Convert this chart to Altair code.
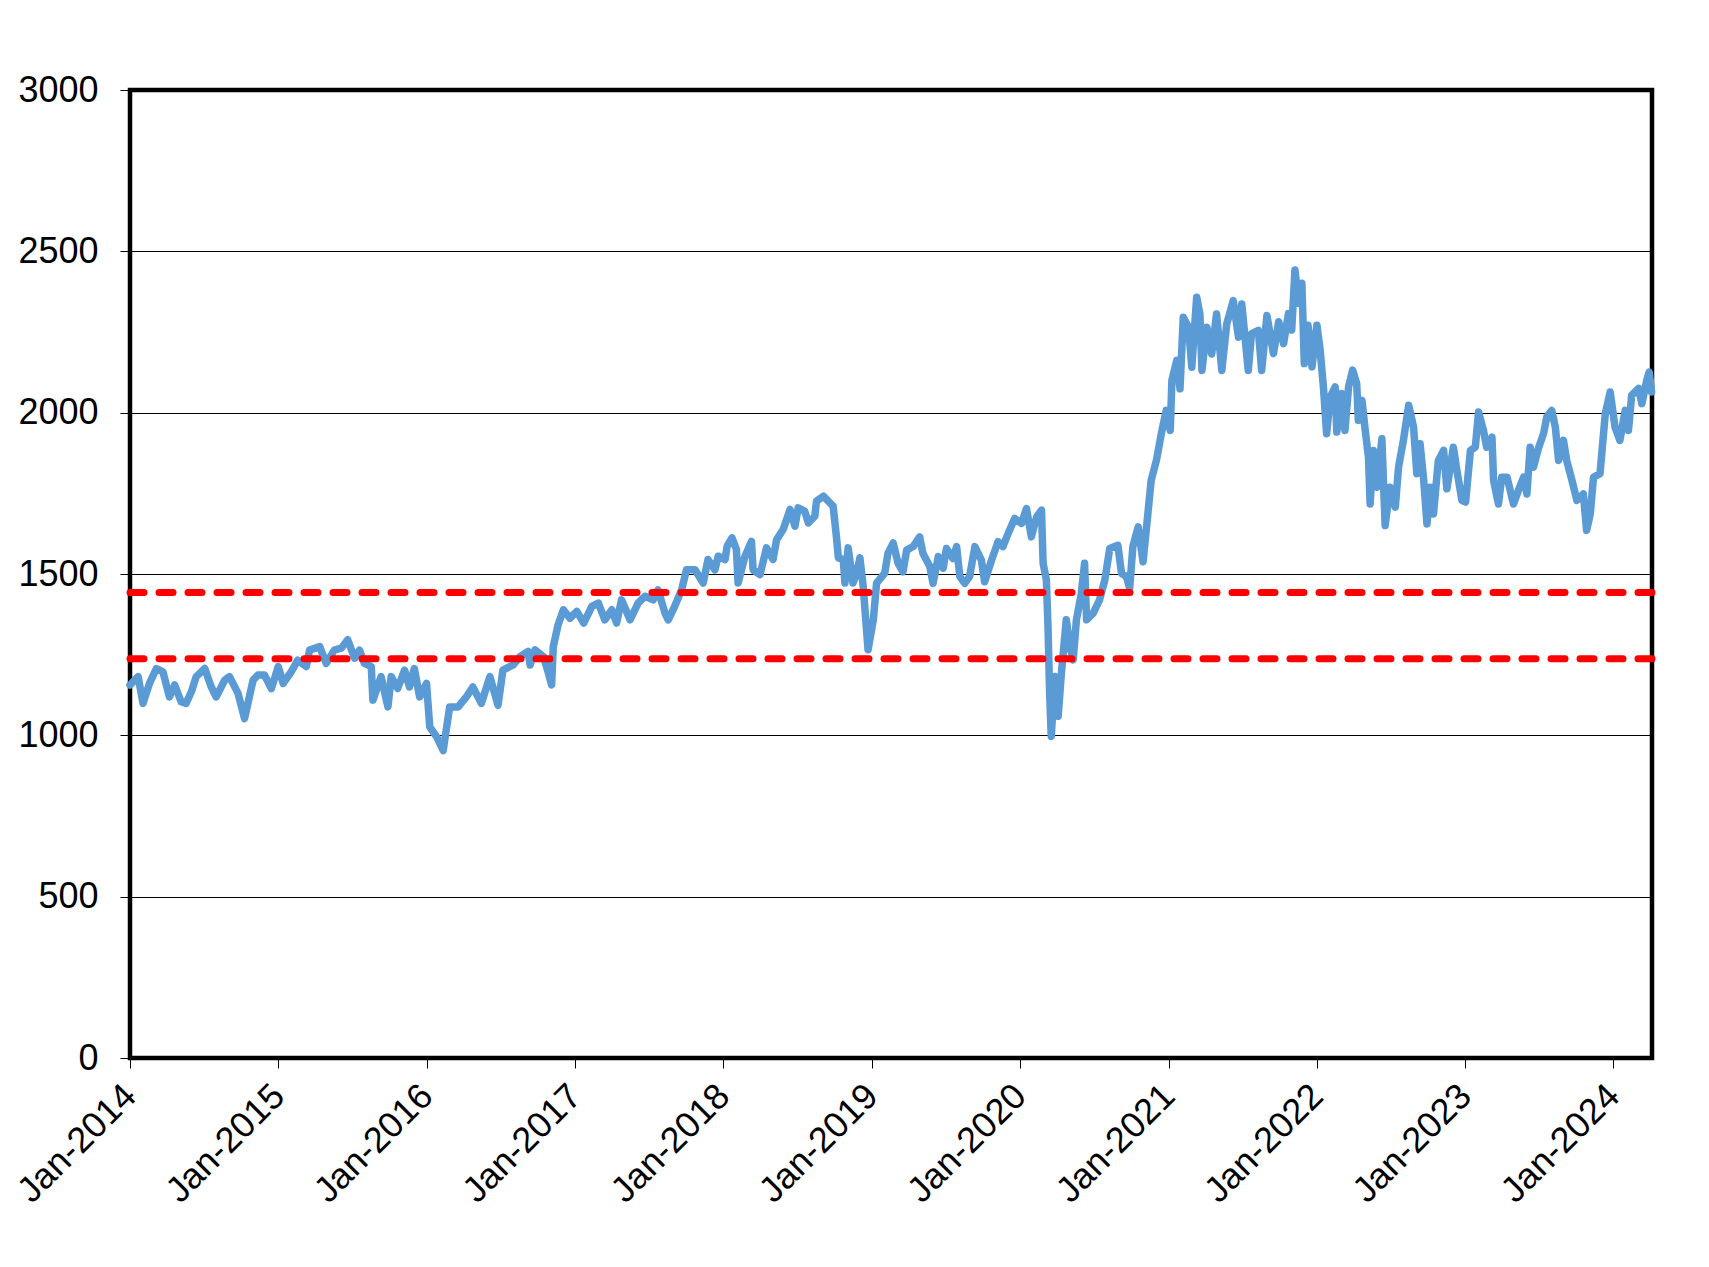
import altair as alt
import pandas as pd

# ---- data ----
dates = [
    "2014-01-01", "2014-01-21", "2014-02-02", "2014-02-18", "2014-03-07", "2014-03-23", "2014-04-08",
    "2014-04-21", "2014-05-07", "2014-05-19", "2014-06-01", "2014-06-13", "2014-07-04", "2014-07-20",
    "2014-08-01", "2014-08-22", "2014-09-03", "2014-09-24", "2014-10-10", "2014-10-31", "2014-11-12",
    "2014-11-28", "2014-12-15",
    "2015-01-01", "2015-01-13", "2015-02-02", "2015-02-18", "2015-03-11", "2015-03-19", "2015-04-13",
    "2015-04-29", "2015-05-19", "2015-06-05", "2015-06-21", "2015-07-08", "2015-07-20", "2015-08-01",
    "2015-08-18", "2015-08-22", "2015-09-11", "2015-09-28", "2015-10-06", "2015-10-22", "2015-11-08",
    "2015-11-20", "2015-12-02", "2015-12-15",
    "2016-01-01", "2016-01-09", "2016-01-26", "2016-02-11", "2016-02-27", "2016-03-19", "2016-04-08",
    "2016-04-24", "2016-05-15", "2016-06-05", "2016-06-25", "2016-07-07", "2016-08-01", "2016-08-18",
    "2016-09-07", "2016-09-12", "2016-09-24", "2016-10-15", "2016-10-27", "2016-11-04", "2016-11-08",
    "2016-11-20", "2016-12-03", "2016-12-19",
    "2017-01-05", "2017-01-22", "2017-02-11", "2017-02-27", "2017-03-15", "2017-04-01", "2017-04-13",
    "2017-04-25", "2017-05-16", "2017-06-05", "2017-06-22", "2017-07-12", "2017-07-24", "2017-08-10",
    "2017-08-18", "2017-09-03", "2017-09-20", "2017-10-02", "2017-10-23", "2017-11-12", "2017-11-24",
    "2017-12-11", "2017-12-19",
    "2018-01-05", "2018-01-10", "2018-01-22", "2018-02-02", "2018-02-06", "2018-02-23", "2018-03-11",
    "2018-03-15", "2018-04-01", "2018-04-17", "2018-05-03", "2018-05-12", "2018-05-28", "2018-06-14",
    "2018-06-26", "2018-07-04", "2018-07-20", "2018-07-29", "2018-08-14", "2018-08-18", "2018-09-04",
    "2018-09-28", "2018-10-06", "2018-10-11", "2018-10-23", "2018-10-27", "2018-11-04", "2018-11-16",
    "2018-11-25", "2018-12-03", "2018-12-11", "2018-12-23",
    "2019-01-05", "2019-01-13", "2019-02-02", "2019-02-10", "2019-02-23", "2019-03-07", "2019-03-19",
    "2019-03-28", "2019-04-13", "2019-04-29", "2019-05-07", "2019-05-24", "2019-06-01", "2019-06-14",
    "2019-06-26", "2019-07-04", "2019-07-20", "2019-07-29", "2019-08-06", "2019-08-18", "2019-08-30",
    "2019-09-12", "2019-09-28", "2019-10-06", "2019-10-23", "2019-11-08", "2019-11-20", "2019-12-03",
    "2019-12-19",
    "2020-01-05", "2020-01-17", "2020-01-29", "2020-02-11", "2020-02-23", "2020-02-27", "2020-03-06",
    "2020-03-10", "2020-03-14", "2020-03-18", "2020-03-27", "2020-04-04", "2020-04-12", "2020-04-24",
    "2020-05-03", "2020-05-11", "2020-05-19", "2020-05-31", "2020-06-08", "2020-06-13", "2020-06-29",
    "2020-07-15", "2020-07-28", "2020-08-09", "2020-08-29", "2020-09-07", "2020-09-19", "2020-09-27",
    "2020-10-05", "2020-10-18", "2020-10-30", "2020-11-11", "2020-11-19", "2020-12-02", "2020-12-14",
    "2020-12-26",
    "2021-01-05", "2021-01-09", "2021-01-21", "2021-01-29", "2021-02-06", "2021-02-19", "2021-02-27",
    "2021-03-11", "2021-03-19", "2021-03-24", "2021-04-05", "2021-04-17", "2021-04-29", "2021-05-12",
    "2021-05-24", "2021-06-09", "2021-06-22", "2021-06-30", "2021-07-16", "2021-07-24", "2021-08-10",
    "2021-08-18", "2021-08-31", "2021-09-16", "2021-09-29", "2021-10-11", "2021-10-23", "2021-10-31",
    "2021-11-08", "2021-11-17", "2021-11-25", "2021-12-01", "2021-12-10", "2021-12-20",
    "2022-01-01", "2022-01-09", "2022-01-17", "2022-01-25", "2022-02-03", "2022-02-15", "2022-02-19",
    "2022-03-03", "2022-03-11", "2022-03-20", "2022-03-30", "2022-04-09", "2022-04-13", "2022-04-22",
    "2022-04-30", "2022-05-08", "2022-05-12", "2022-05-20", "2022-05-29", "2022-06-10", "2022-06-18",
    "2022-06-30", "2022-07-13", "2022-07-21", "2022-08-02", "2022-08-15", "2022-08-27", "2022-09-04",
    "2022-09-12", "2022-09-21", "2022-09-29", "2022-10-07", "2022-10-15", "2022-10-27", "2022-11-09",
    "2022-11-17", "2022-12-03", "2022-12-11", "2022-12-24",
    "2023-01-02", "2023-01-14", "2023-01-26", "2023-02-03", "2023-02-15", "2023-02-23", "2023-03-08",
    "2023-03-12", "2023-03-24", "2023-04-01", "2023-04-14", "2023-04-30", "2023-05-12", "2023-05-25",
    "2023-06-02", "2023-06-10", "2023-06-18", "2023-06-30", "2023-07-13", "2023-07-21", "2023-08-02",
    "2023-08-11", "2023-08-19", "2023-08-31", "2023-09-08", "2023-09-21", "2023-10-03", "2023-10-19",
    "2023-10-27", "2023-11-05", "2023-11-13", "2023-11-29", "2023-12-12", "2023-12-24",
    "2024-01-05", "2024-01-17", "2024-01-30", "2024-02-07", "2024-02-15", "2024-03-03", "2024-03-11",
    "2024-03-23", "2024-03-29", "2024-04-04",
]

values = [
    1156, 1182, 1099, 1161, 1207, 1197, 1119,
    1156, 1104, 1099, 1135, 1182, 1207, 1150,
    1119, 1171, 1182, 1130, 1052, 1171, 1187,
    1187, 1145,
    1213, 1161, 1197, 1233, 1213, 1264, 1275,
    1223, 1264, 1270, 1296, 1239, 1264, 1223,
    1213, 1109, 1182, 1088, 1182, 1145, 1202,
    1150, 1207, 1119,
    1161, 1026, 995, 953, 1088, 1088, 1119,
    1150, 1099, 1182, 1093, 1202, 1218, 1244,
    1260, 1218, 1265, 1244, 1193, 1156, 1275,
    1343, 1389, 1363,
    1384, 1348, 1400, 1410, 1358, 1389, 1348,
    1420, 1358, 1410, 1431, 1420, 1451, 1379,
    1358, 1400, 1451, 1513, 1513, 1472, 1545,
    1513, 1555,
    1545, 1586, 1612, 1576, 1472, 1555, 1601,
    1513, 1498, 1581, 1545, 1607, 1638, 1700,
    1648, 1705, 1695, 1658, 1679, 1726, 1741,
    1710, 1617, 1550, 1545, 1472, 1581, 1472,
    1503, 1550, 1462, 1265,
    1358, 1472, 1503, 1564, 1596, 1533, 1507,
    1574, 1585, 1615, 1564, 1523, 1471, 1554,
    1518, 1579, 1548, 1585, 1492, 1471, 1492,
    1585, 1543, 1476, 1543, 1600, 1585, 1626,
    1672,
    1657, 1703, 1615, 1677, 1698, 1533, 1482,
    1337, 1131, 997, 1182, 1059, 1193, 1358,
    1275, 1234, 1358, 1440, 1533, 1358, 1378,
    1420, 1482, 1579, 1589, 1502, 1492, 1456,
    1585, 1646, 1538, 1688, 1790, 1853, 1935,
    2007,
    1945, 2100, 2162, 2074, 2296, 2265, 2141,
    2358, 2306, 2131, 2265, 2182, 2306, 2131,
    2275, 2347, 2234, 2337, 2131, 2244, 2255,
    2131, 2301, 2183, 2282, 2214, 2307, 2256,
    2442, 2339, 2401, 2152, 2271, 2142,
    2271, 2194, 2080, 1935, 2049, 2080, 1940,
    2059, 1945, 2080, 2132, 2090, 1976, 2038,
    1945, 1862, 1717, 1883, 1769, 1919, 1650,
    1769, 1707, 1831, 1914, 2023, 1955, 1811,
    1904, 1790, 1655, 1769, 1686, 1852, 1883,
    1764, 1893, 1826, 1728,
    1723, 1883, 1893, 2002, 1945, 1893, 1924,
    1790, 1717, 1800, 1800, 1717, 1759, 1800,
    1748, 1893, 1831, 1888, 1935, 1987, 2007,
    1955, 1852, 1914, 1852, 1790, 1728, 1748,
    1635, 1686, 1800, 1811, 1997, 2064,
    1955, 1914, 2007, 1945, 2054, 2075, 2028,
    2100, 2126, 2064,
]

levels = [1443, 1237]
year_ticks = list(range(2014, 2025))
y_ticks = [0, 500, 1000, 1500, 2000, 2500, 3000]

df = pd.DataFrame({"date": dates, "value": values})
lv = pd.DataFrame({"level": levels})

FONT = "Liberation Sans"
FS = 36

y_scale = alt.Scale(domain=[0, 3000], nice=False, zero=True)

x_enc = alt.X(
    "date:T",
    scale=alt.Scale(
        type="utc",
        domain=[
            alt.DateTime(year=2014, month=1, date=1, utc=True),
            alt.DateTime(year=2024, month=4, date=5, utc=True),
        ],
    ),
    axis=alt.Axis(
        values=[alt.DateTime(year=y, month=1, date=1, utc=True) for y in year_ticks],
        format="%b-%Y",
        labelAngle=-45,
        labelAlign="right",
        labelBaseline="middle",
        labelPadding=22,
        labelFont=FONT,
        labelFontSize=FS,
        labelColor="black",
        labelOverlap=False,
        labelFlush=False,
        tickSize=10,
        tickColor="black",
        tickWidth=1,
        grid=False,
        domain=False,
        title=None,
    ),
)

y_enc = alt.Y(
    "value:Q",
    scale=y_scale,
    axis=alt.Axis(
        values=y_ticks,
        format="d",
        labelFont=FONT,
        labelFontSize=FS,
        labelColor="black",
        labelPadding=22,
        tickSize=10,
        tickColor="black",
        tickWidth=1,
        grid=True,
        gridColor="black",
        gridWidth=1.2,
        domain=False,
        title=None,
    ),
)

line = alt.Chart(df).mark_line(
    color="#5B9BD5", strokeWidth=7.5, strokeJoin="round", strokeCap="round"
).encode(x=x_enc, y=y_enc)

rules = alt.Chart(lv).mark_rule(
    color="#FF0000", strokeWidth=7, strokeDash=[14, 15], strokeCap="round"
).encode(y=alt.Y("level:Q", scale=y_scale))

chart = (
    alt.layer(line, rules)
    .properties(
        width=1522,
        height=968,
        autosize=alt.AutoSizeParams(type="none"),
        padding={"left": 122, "top": 82, "right": 49, "bottom": 190},
        background="white",
    )
    .configure_view(stroke="black", strokeWidth=4.5)
)

chart.save("out.html", embed_options={"renderer": "svg", "actions": False})
